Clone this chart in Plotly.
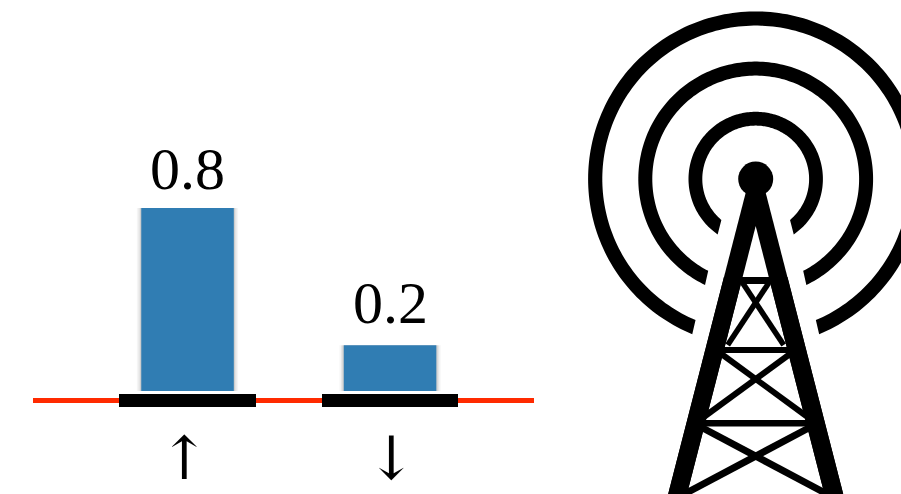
import numpy as np
import plotly.graph_objects as go

# ---- data ----
categories = ["up", "down"]
values = [0.8, 0.2]
value_labels = ["0.8", "0.2"]
arrow_labels = ["↑", "↓"]

W, H = 901, 494
BLUE = "#307db3"
RED = "#ff2a00"
SERIF = "Liberation Serif"
ARROW_FONT = "DejaVu Serif"

fig = go.Figure()
# soft shadow either side of the bars, then the bars themselves
for width, alpha in [(0.50, 0.04), (0.485, 0.06), (0.47, 0.10)]:
    fig.add_trace(go.Bar(x=categories, y=values, width=width, hoverinfo="skip",
                         marker=dict(color=f"rgba(0,0,0,{alpha})", line_width=0),
                         showlegend=False))
fig.add_trace(go.Bar(x=categories, y=values, width=0.457,
                     marker=dict(color=BLUE, line_width=0), showlegend=False))


def xp(px):
    return px / W


def yp(py):
    return 1 - py / H


def rect(x0, y0, x1, y1, color):
    return dict(type="rect", xref="paper", yref="paper", x0=xp(x0), x1=xp(x1),
                y0=yp(y0), y1=yp(y1), fillcolor=color, line_width=0, layer="above")


def poly(points, color):
    d = "M" + " L".join(f"{xp(x):.5f},{yp(y):.5f}" for x, y in points) + " Z"
    return dict(type="path", xref="paper", yref="paper", path=d, fillcolor=color,
                line_width=0, layer="above")


shapes = []
# baseline and the two black ticks below the bars
shapes.append(rect(33, 398, 534, 403, RED))
shapes.append(rect(119, 394, 256, 407, "#000000"))
shapes.append(rect(322, 394, 458, 407, "#000000"))

# tower icon: three rings, ends cut parallel to the legs
cx, cy = 755.7, 179.0
rings = [
    (53.4, 67.2, (721.3, 220.0), (717.7, 234.3)),
    (103.4, 117.4, (708.3, 270.7), (705.0, 285.0)),
    (153.4, 167.6, (695.3, 320.7), (692.3, 334.0)),
]
for r_in, r_out, pi, po in rings:
    a_in = np.arctan2(pi[1] - cy, pi[0] - cx)
    a_out = np.arctan2(po[1] - cy, po[0] - cx)
    sweep_out = np.linspace(a_out, (np.pi - a_out) + 2 * np.pi, 220)
    sweep_in = np.linspace((np.pi - a_in) + 2 * np.pi, a_in, 220)
    pts = [(cx + r_out * np.cos(t), cy + r_out * np.sin(t)) for t in sweep_out]
    pts += [(cx + r_in * np.cos(t), cy + r_in * np.sin(t)) for t in sweep_in]
    shapes.append(poly(pts, "#000000"))

# tower icon: head and legs
shapes.append(dict(type="circle", xref="paper", yref="paper", x0=xp(cx - 17.5), x1=xp(cx + 17.5),
                   y0=yp(cy - 17.5), y1=yp(cy + 17.5), fillcolor="#000000", line_width=0, layer="above"))
shapes.append(poly([(cx - 10, 192.7), (cx + 10, 192.7), (cx + 88.3, 497), (cx - 88.3, 497)], "#000000"))
shapes.append(poly([(cx, 226), (cx + 69.5, 497), (cx - 69.5, 497)], "#ffffff"))

# tower icon: cross braces
braces = [
    ((cx - 13, 283), (cx + 28, 345), 5.5), ((cx + 13, 283), (cx - 28, 345), 5.5),
    ((cx - 35.6, 353), (cx + 56, 420), 6), ((cx + 35.6, 353), (cx - 56, 420), 6),
    ((cx - 53, 428), (cx + 77, 497), 7), ((cx + 53, 428), (cx - 77, 497), 7),
]
for (x0, y0), (x1, y1), lw in braces:
    shapes.append(dict(type="line", xref="paper", yref="paper", x0=xp(x0), x1=xp(x1),
                       y0=yp(y0), y1=yp(y1), line=dict(color="#000000", width=lw), layer="above"))

# tower icon: horizontal bars
for y0, y1, half in [(277, 284, 22), (347, 353, 40), (420, 426.5, 60)]:
    shapes.append(rect(cx - half, y0, cx + half, y1, "#000000"))
# the legs again, so that braces never poke outside them
for side in (-1, 1):
    shapes.append(poly([(cx + side * 13.0, 277), (cx + side * 31.8, 277),
                        (cx + side * 88.3, 497), (cx + side * 69.5, 497)], "#000000"))

annotations = []
for cat, val, label, shift in zip(categories, values, value_labels, [4, 7]):
    annotations.append(dict(x=cat, y=val, xref="x", yref="y", text=label, showarrow=False,
                            yanchor="bottom", yshift=shift,
                            font=dict(family=SERIF, size=60, color="#000000")))
for cat, label, shift in zip(categories, arrow_labels, [-4, 1]):
    annotations.append(dict(x=cat, y=0, xref="x", yref="paper", text=label, showarrow=False,
                            xshift=shift, yanchor="bottom", borderpad=0,
                            font=dict(family=ARROW_FONT, size=60, color="#000000")))

fig.update_layout(
    width=W, height=H, margin=dict(l=0, r=0, t=0, b=0, pad=0, autoexpand=False),
    paper_bgcolor="#ffffff", plot_bgcolor="rgba(0,0,0,0)",
    barmode="overlay", showlegend=False, shapes=shapes, annotations=annotations,
    xaxis=dict(type="category", range=[-0.926, 3.523], visible=False, domain=[0, 1]),
    yaxis=dict(range=[-0.450, 1.709], visible=False, domain=[0, 1]),
)

fig.write_html("out.html", config={"displayModeBar": False},
               post_script="document.body.style.margin='0';document.body.style.overflow='hidden';")
